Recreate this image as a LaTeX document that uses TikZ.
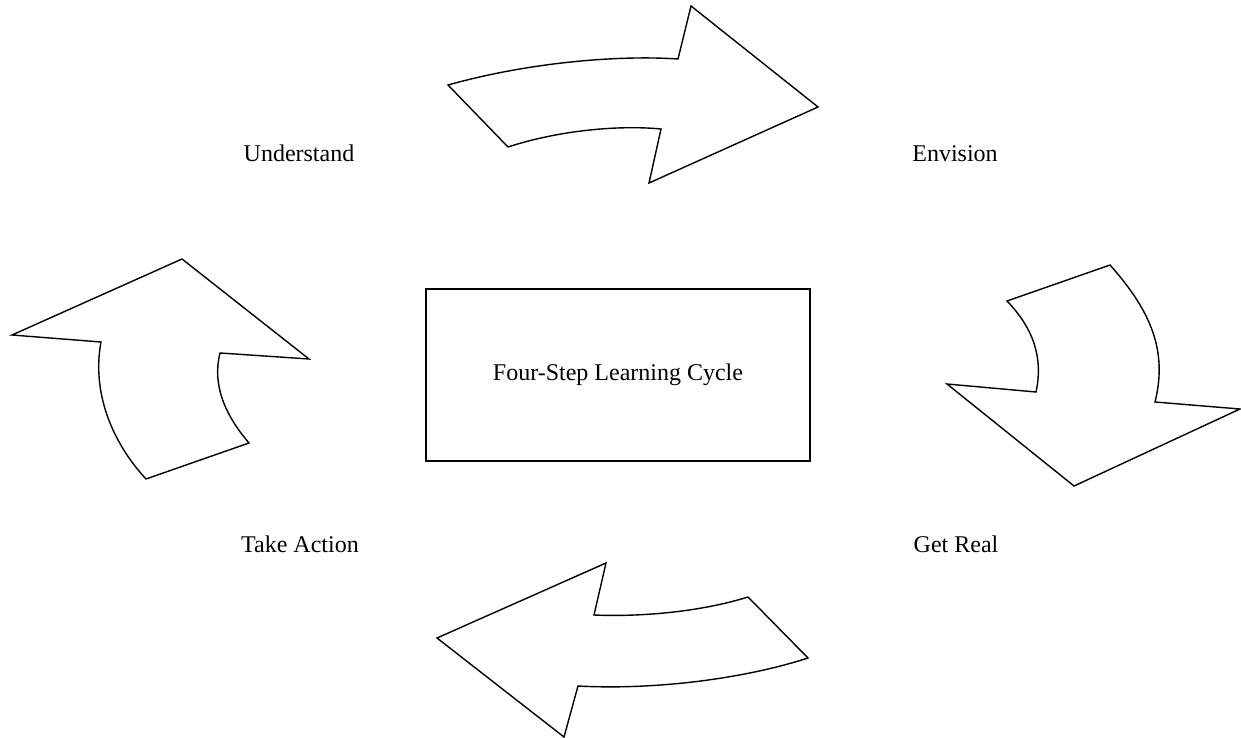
\documentclass[tikz,border=0pt]{standalone}
\usepackage{fontspec}
\setmainfont{Liberation Serif}
\usetikzlibrary{positioning}

\begin{document}
\begin{tikzpicture}[x=0.5pt,y=-0.5pt,line join=miter,
  cycarrow/.style={draw,line width=0.7pt,fill=white},
  cycbox/.style={draw,line width=0.7pt,rectangle,minimum width=192pt,minimum height=86pt,font=\fontsize{12}{14}\selectfont},
  stage/.style={anchor=base,font=\fontsize{12}{14}\selectfont}]
  \useasboundingbox (0,0) rectangle (1241,738);
  % centre box
  \node[cycbox] (cycle) at (618,375) {Four-Step Learning Cycle};
  % stage names
  \node[stage] (understand) at (299,162) {Understand};
  \node[stage] (envision) at (955,162) {Envision};
  \node[stage] (getreal) at (956,552) {Get Real};
  \node[stage] (takeaction) at (300,552) {Take Action};
  % top arrow
  \draw[cycarrow] (448,85) .. controls (530,62) and (620,55) .. (678,59)
    -- (691,6) -- (818,107) -- (649,183) -- (661,129)
    .. controls (620,125) and (560,130) .. (508,147) -- cycle;
  % right arrow
  \draw[cycarrow] (1007,301) -- (1110,265) .. controls (1150,310) and (1168,350) .. (1155,402)
    -- (1240,409) -- (1074,486) -- (947,384) -- (1036,392)
    .. controls (1043,360) and (1035,330) .. (1007,301) -- cycle;
  % bottom arrow
  \draw[cycarrow] (748,597) .. controls (700,612) and (640,617) .. (594,615)
    -- (606,563) -- (437,638) -- (564,737) -- (578,686)
    .. controls (650,690) and (740,680) .. (808,658) -- cycle;
  % left arrow
  \draw[cycarrow] (146,479) -- (249,443) .. controls (225,415) and (212,385) .. (220,353)
    -- (309,359) -- (182,259) -- (12,335) -- (101,342)
    .. controls (92,390) and (110,440) .. (146,479) -- cycle;
\end{tikzpicture}
\end{document}
